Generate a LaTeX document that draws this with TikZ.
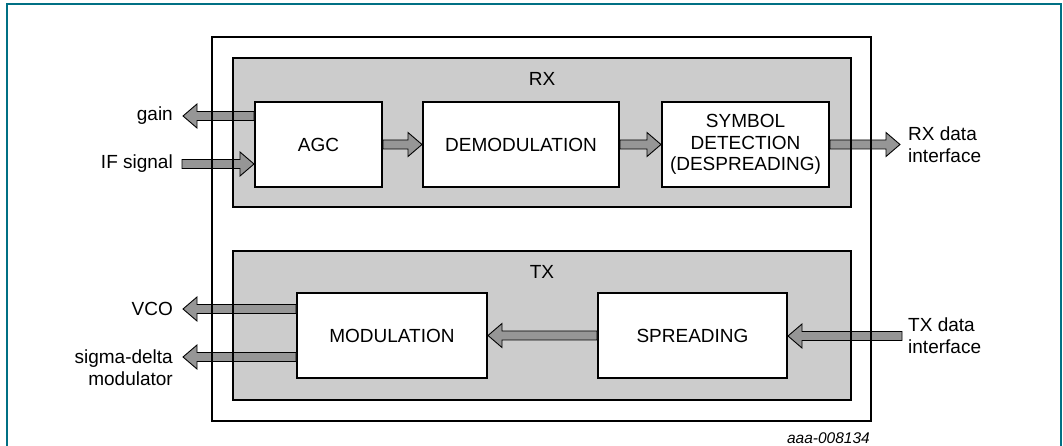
\documentclass[tikz,border=0pt]{standalone}
\usepackage{fontspec}
\setmainfont{Liberation Sans}
\usetikzlibrary{positioning,calc}
\definecolor{framecol}{RGB}{0,112,132}
\definecolor{groupgray}{RGB}{204,204,204}
\definecolor{arrowgray}{RGB}{150,150,150}
\pgfdeclarelayer{background}
\pgfsetlayers{background,main}
\begin{document}
\begin{tikzpicture}
		[x=1pt, y=-1pt,
		box/.style={draw, line width=2pt, fill=white, minimum height=85pt,
			inner sep=0pt, align=center, font=\fontsize{19}{21.7}\selectfont},
		group/.style={draw, line width=2pt, minimum width=618pt,
			minimum height=149pt, inner sep=0pt},
		lbl/.style={inner sep=0pt, font=\fontsize{19}{21.7}\selectfont},
		fat/.style={draw, line width=0.9pt, fill=arrowgray,
			to path={let \p1=(\tikztostart), \p2=(\tikztotarget),
				\p3=($(\p2)!14pt!(\p1)$) in
				(\x1,\y1+4.5pt) -- (\x3,\y1+4.5pt) -- (\x3,\y1+12pt) -- (\x2,\y1)
				-- (\x3,\y1-12pt) -- (\x3,\y1-4.5pt) -- (\x1,\y1-4.5pt) -- cycle}}]
		\useasboundingbox (0,0) rectangle (1063,446);
		\draw[framecol, line width=1.2pt] (7,446) -- (7,4) -- (1061,4) -- (1061,446);
		\node[box, minimum width=127pt] (agc) at (318.5,144.5) {AGC};
		\node[box, minimum width=196pt] (demod) at (521,144.5) {DEMODULATION};
		\node[box, minimum width=167pt] (symdet) at (745.5,144.5)
			{SYMBOL\\DETECTION\\(DESPREADING)};
		\node[box, minimum width=190pt] (mod) at (392,335.5) {MODULATION};
		\node[box, minimum width=189pt] (spread) at (692.5,335.5) {SPREADING};
		\coordinate (gainend) at (183,116);
		\coordinate (ifstart) at (182,164);
		\coordinate (rxend) at (900,144.5);
		\coordinate (vcoend) at (183,309);
		\coordinate (sigend) at (183,357);
		\coordinate (txstart) at (902,336);
		\node[lbl, left=10pt of gainend] (gain) {gain};
		\node[lbl, left=9pt of ifstart] (ifsig) {IF signal};
		\node[lbl, right=8pt of rxend, align=left] (rxdata) {RX data\\interface};
		\node[lbl, left=10pt of vcoend] (vco) {VCO};
		\node[lbl, anchor=east, align=right] (sigdelta)
			at ([xshift=-10pt, yshift=-10.5pt]sigend) {sigma-delta\\modulator};
		\node[lbl, right=6pt of txstart, align=left] (txdata) {TX data\\interface};
		\draw[fat] ([yshift=28.5pt]agc.west) to (gainend);
		\draw[fat] (ifstart) to ([yshift=-19.5pt]agc.west);
		\draw[fat] (agc.east) to (demod.west);
		\draw[fat] (demod.east) to (symdet.west);
		\draw[fat] (symdet.east) to (rxend);
		\draw[fat] ([yshift=26.5pt]mod.west) to (vcoend);
		\draw[fat] ([yshift=-21.5pt]mod.west) to (sigend);
		\draw[fat] (spread.west) to (mod.east);
		\draw[fat] (txstart) to (spread.east);
		\node[group] (rx) at (542,132.5) {};
		\node[group] (tx) at (542,325.5) {};
		\node[draw, line width=2pt, minimum width=659pt, minimum height=384pt,
			inner sep=0pt] (outer) at (541.5,229) {};
		\node[lbl] (rxlbl) at ([yshift=-22pt]rx.north) {RX};
		\node[lbl] (txlbl) at ([yshift=-22pt]tx.north) {TX};
		\node[inner sep=0pt, anchor=east, font=\fontsize{15.5}{18}\selectfont\itshape]
			(figid) at (870,438) {aaa-008134};
		\begin{pgfonlayer}{background}
			\fill[groupgray] (rx.north west) rectangle (rx.south east);
			\fill[groupgray] (tx.north west) rectangle (tx.south east);
		\end{pgfonlayer}
	\end{tikzpicture}
\end{document}
